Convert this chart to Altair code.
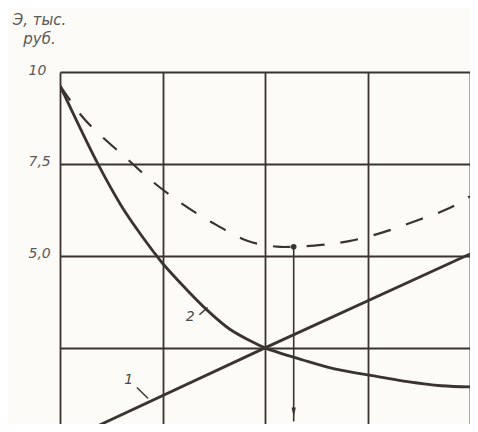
import altair as alt
import pandas as pd

# ---- data ----
line1_x = [0.0, 2.0, 4.0]
line1_y = [-0.1, 2.5, 5.05]

curve2_x = [0.0, 0.37, 0.59, 0.75, 0.91, 1.0, 1.23, 1.43, 1.65, 1.85, 2.0, 2.37, 2.69, 3.1, 3.39, 3.72, 4.0]
curve2_y = [9.63, 7.5, 6.4, 5.73, 5.12, 4.8, 4.1, 3.54, 3.02, 2.7, 2.5, 2.17, 1.92, 1.72, 1.58, 1.47, 1.44]

total_x = [0.0, 0.21, 0.33, 0.67, 0.89, 1.2, 1.47, 1.84, 2.12, 2.28, 2.55, 2.82, 3.15, 3.49, 3.8, 4.0]
total_y = [9.63, 8.81, 8.45, 7.6, 7.05, 6.4, 5.93, 5.4, 5.25, 5.25, 5.3, 5.4, 5.64, 5.97, 6.3, 6.62]

opt_x = [2.28]
opt_y = [5.25]
arrow_end_y = [0.5]
arrow_head_y = [0.75]

label_text = ["1", "2"]
label_x = [0.67, 1.27]
label_y = [1.63, 3.33]
leader_x = [0.75, 1.36]
leader_x2 = [0.86, 1.44]
leader_y = [1.42, 3.40]
leader_y2 = [1.12, 3.60]

y_ticks = [2.5, 5.0, 7.5, 10.0]
x_ticks = [0, 1, 2, 3, 4]
y_title = ["Э, тыс.", "руб."]

C = "#3a3330"
FONT = "DejaVu Sans"

xs = alt.Scale(domain=[0, 4], nice=False, zero=False)
ys = alt.Scale(domain=[0.43, 10], nice=False, zero=False)

x_axis = alt.Axis(values=x_ticks, labels=False, ticks=False, domain=False,
                  grid=True, title=None)
y_axis = alt.Axis(values=y_ticks, ticks=False, domain=False, grid=True,
                  labelExpr="datum.value == 10 ? '10' : datum.value == 7.5 ? '7,5' : datum.value == 5 ? '5,0' : ''",
                  labelFont=FONT, labelFontStyle="italic", labelFontSize=14,
                  labelColor="#5a5a5a", labelPadding=32, labelAlign="left", labelOffset=-2,
                  title=y_title, titleAngle=0, titleAlign="center", titleBaseline="top",
                  titleX=-21, titleY=-60, titleFont=FONT, titleFontStyle="italic",
                  titleFontWeight="normal", titleFontSize=15, titleColor="#5a5a5a",
                  titleLineHeight=19)

X = alt.X("x:Q", scale=xs, axis=x_axis)
Y = alt.Y("y:Q", scale=ys, axis=y_axis)

df1 = pd.DataFrame({"x": line1_x, "y": line1_y})
df2 = pd.DataFrame({"x": curve2_x, "y": curve2_y})
dft = pd.DataFrame({"x": total_x, "y": total_y})
dfo = pd.DataFrame({"x": opt_x, "y": opt_y, "y2": arrow_end_y, "yh": arrow_head_y})
dfl = pd.DataFrame({"x": label_x, "y": label_y, "t": label_text})
dfd = pd.DataFrame({"x": leader_x, "x2": leader_x2, "y": leader_y, "y2": leader_y2})

l1 = alt.Chart(df1).mark_line(color=C, strokeWidth=2.8, clip=True).encode(x=X, y=Y)
l2 = alt.Chart(df2).mark_line(color=C, strokeWidth=2.8, interpolate="catmull-rom", clip=True).encode(x=X, y=Y)
lt = alt.Chart(dft).mark_line(color=C, strokeWidth=2.2, strokeDash=[18, 16],
                              interpolate="catmull-rom", clip=True).encode(x=X, y=Y)
arrow = alt.Chart(dfo).mark_rule(color=C, strokeWidth=1.6).encode(x=X, y=Y, y2="y2:Q")
head = alt.Chart(dfo).mark_point(shape="M-0.45,-1L0.45,-1L0,1Z", filled=True, size=90,
                                 color=C, opacity=1).encode(x=X, y=alt.Y("yh:Q", scale=ys, axis=y_axis))
dot = alt.Chart(dfo).mark_point(filled=True, size=32, color=C, opacity=1).encode(x=X, y=Y)
labels = alt.Chart(dfl).mark_text(font=FONT, fontStyle="italic", fontSize=14, color="#4a4a4a").encode(
    x=X, y=Y, text="t:N")
leaders = alt.Chart(dfd).mark_rule(color=C, strokeWidth=1.4).encode(x=X, x2="x2:Q", y=Y, y2="y2:Q")

chart = alt.layer(l1, l2, lt, arrow, head, dot, leaders, labels).properties(
    width=410, height=352,
    autosize=alt.AutoSizeParams(type="none"),
    padding={"left": 52, "top": 64, "right": 0, "bottom": 0},
    background="#fcfbf7",
).configure_view(stroke=None).configure_axis(
    gridColor=C, gridWidth=1.8, gridOpacity=1
)

chart.save("out.html", embed_options={"renderer": "svg", "actions": False})
